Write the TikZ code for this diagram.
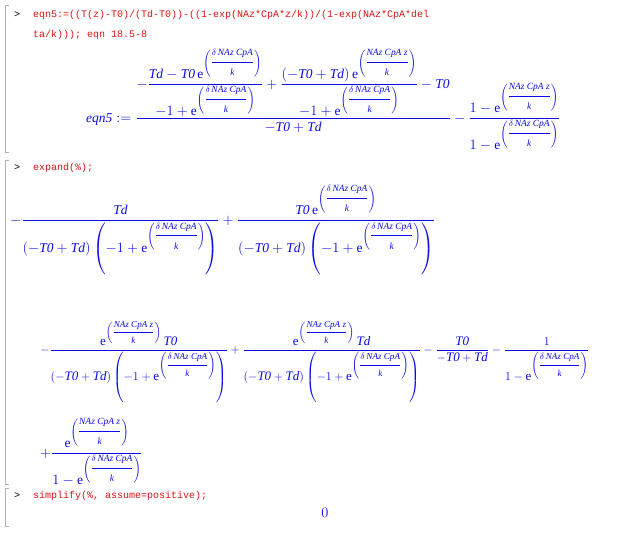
\documentclass[tikz,border=0pt]{standalone}
\usepackage{amsmath}
\usepackage{fontspec}
\setmainfont{Liberation Serif}
\setmonofont{Liberation Mono}
\newcommand{\mv}[1]{\text{\itshape #1}}
\newcommand{\ed}{\mathrm{e}^{\left(\dfrac{\scriptstyle\delta\,\mv{NAz CpA}}{\scriptstyle\mv{k}}\right)}}
\newcommand{\ez}{\mathrm{e}^{\left(\dfrac{\scriptstyle\mv{NAz CpA z}}{\scriptstyle\mv{k}}\right)}}
\newcommand{\dd}{\left(-\mv{T0}+\mv{Td}\right)\left(-1+\ed\right)}
\definecolor{inred}{RGB}{220,20,20}
\definecolor{outblue}{RGB}{10,10,230}
\begin{document}
\begin{tikzpicture}[x=1pt,y=-1pt,
    prompt/.style={anchor=west,inner sep=0pt,font=\ttfamily\fontsize{10}{12}\selectfont},
    input/.style={prompt,text=inred},
    output/.style={anchor=west,inner sep=0pt,text=outblue,font=\fontsize{13.5}{16}\selectfont},
    group/.style={draw=gray!60,line width=0.6pt}]
\useasboundingbox (0,0) rectangle (636,532);
% group brackets
\draw[group] (9,5) -- (5,5) -- (5,152) -- (9,152);
\draw[group] (9,160) -- (5,160) -- (5,484) -- (9,484);
\draw[group] (9,488) -- (5,488) -- (5,526) -- (9,526);
% first input
\node[prompt] (p1) at (14,15) {>};
\node[input] (in1a) at (33,15) {eqn5:=((T(z)-T0)/(Td-T0))-((1-exp(NAz*CpA*z/k))/(1-exp(NAz*CpA*del};
\node[input] (in1b) at (33,35) {ta/k))); eqn 18.5-8};
\node[output] (out1) at (86,100) {$\displaystyle \mv{eqn5} :=
  \frac{-\dfrac{\mv{Td}-\mv{T0}\,\ed}{-1+\ed}+\dfrac{\left(-\mv{T0}+\mv{Td}\right)\ez}{-1+\ed}-\mv{T0}}{-\mv{T0}+\mv{Td}}
  -\frac{1-\ez}{1-\ed}$};
% second input
\node[prompt] (p2) at (14,168) {>};
\node[input] (in2) at (33,168) {expand(\%);};
\node[output] (out2a) at (10,230) {$\displaystyle -\frac{\mv{Td}}{\dd}+\frac{\mv{T0}\,\ed}{\dd}$};
\node[output,font=\fontsize{13}{15}\selectfont] (out2b) at (40,362) {$\displaystyle -\frac{\ez\,\mv{T0}}{\dd}+\frac{\ez\,\mv{Td}}{\dd}-\frac{\mv{T0}}{-\mv{T0}+\mv{Td}}-\frac{1}{1-\ed}$};
\node[output] (out2c) at (40,452) {$\displaystyle +\frac{\ez}{1-\ed}$};
% third input
\node[prompt] (p3) at (14,496) {>};
\node[input] (in3) at (33,496) {simplify(\%, assume=positive);};
\node[output,anchor=center] (out3) at (325,513) {$0$};
\end{tikzpicture}
\end{document}
